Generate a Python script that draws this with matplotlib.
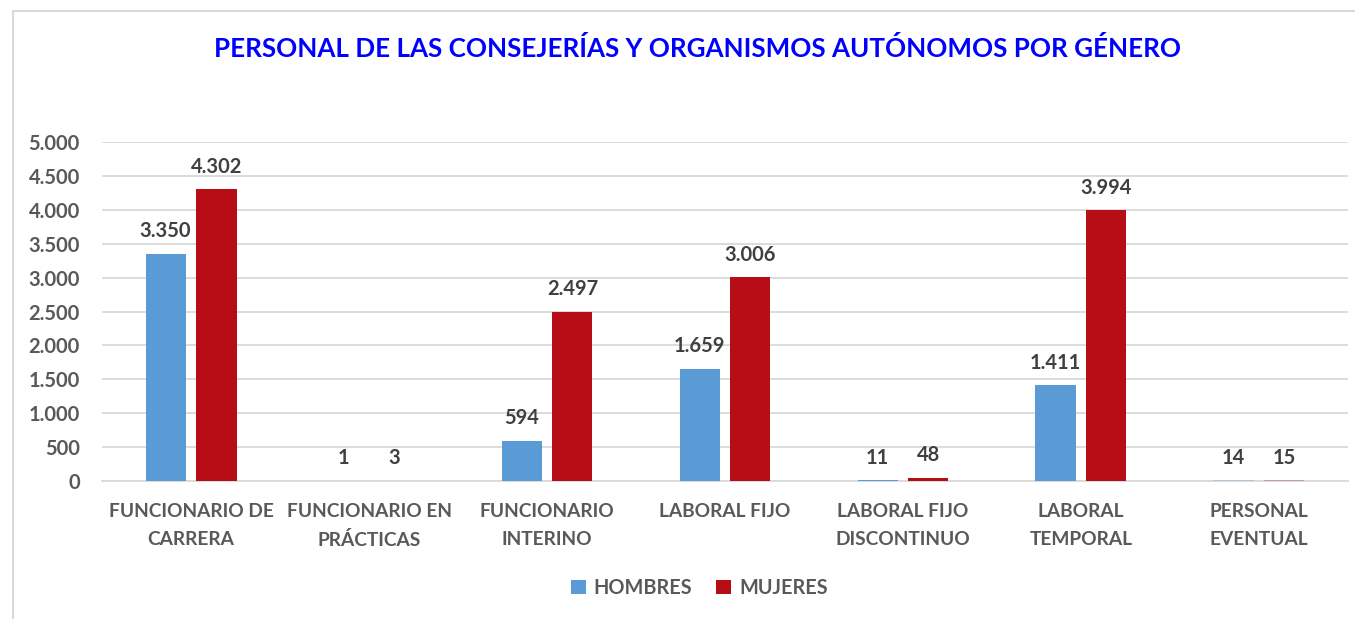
import matplotlib
matplotlib.use("Agg")
import matplotlib.pyplot as plt
import numpy as np
from matplotlib.patches import Rectangle
from matplotlib.ticker import FuncFormatter, MultipleLocator

categorias = [
    "FUNCIONARIO DE\nCARRERA",
    "FUNCIONARIO EN\nPRÁCTICAS",
    "FUNCIONARIO\nINTERINO",
    "LABORAL FIJO",
    "LABORAL FIJO\nDISCONTINUO",
    "LABORAL\nTEMPORAL",
    "PERSONAL\nEVENTUAL",
]
hombres = [3350, 1, 594, 1659, 11, 1411, 14]
mujeres = [4302, 3, 2497, 3006, 48, 3994, 15]

AZUL = "#5B9BD5"
ROJO = "#B70D16"
GRIS = "#595959"

plt.rcParams["font.family"] = ["Lato", "DejaVu Sans"]


def miles(v):
    return f"{int(v):,}".replace(",", ".")


fig = plt.figure(figsize=(13.55, 6.19), dpi=100)
ax = fig.add_axes([0.0753, 0.2229, 0.9195, 0.5477])

x = np.arange(len(categorias))
w = 0.225
off = 0.143
bh = ax.bar(x - off, hombres, w, color=AZUL, label="HOMBRES", zorder=3)
bm = ax.bar(x + off, mujeres, w, color=ROJO, label="MUJERES", zorder=3)
# the last category is drawn faded in the original
bh[-1].set_alpha(0.3)
bm[-1].set_alpha(0.3)

for bars, vals in ((bh, hombres), (bm, mujeres)):
    for b, v in zip(bars, vals):
        ax.annotate(miles(v), (b.get_x() + b.get_width() / 2, v),
                    xytext=(0, 9), textcoords="offset points",
                    ha="center", va="bottom", fontsize=14.5, fontweight="bold",
                    color="#404040")

ax.set_xlim(-0.5, len(categorias) - 0.5)
ax.set_ylim(0, 5000)
ax.yaxis.set_major_locator(MultipleLocator(500))
ax.yaxis.set_major_formatter(FuncFormatter(lambda v, p: miles(v)))
ax.set_xticks(x)
ax.set_xticklabels(categorias, fontsize=13.8, fontweight="bold", color=GRIS,
                   linespacing=1.75)
ax.tick_params(axis="both", length=0, labelcolor=GRIS)
ax.tick_params(axis="x", pad=16)
ax.tick_params(axis="y", pad=16, labelsize=14.5)
for lab in ax.get_yticklabels():
    lab.set_fontweight("bold")
ax.grid(axis="y", color="#D9D9D9", linewidth=1.3, zorder=0)
for s in ("left", "right", "top"):
    ax.spines[s].set_visible(False)
ax.spines["bottom"].set_color("#D9D9D9")
ax.spines["bottom"].set_linewidth(1.3)

fig.text(0.515, 0.921, "PERSONAL DE LAS CONSEJERÍAS Y ORGANISMOS AUTÓNOMOS POR GÉNERO",
         ha="center", va="center", fontsize=18.7, fontweight="bold", color="#0000FF")

fig.legend(handles=[bh, bm], loc="center", bbox_to_anchor=(0.516, 0.05),
           ncol=2, frameon=False, handlelength=0.75,
           handleheight=0.75, handletextpad=0.4, columnspacing=1.2,
           labelcolor=GRIS, prop={"weight": "bold", "size": 14.3})

# outer chart frame (partly cropped in the original)
fig.patches.append(Rectangle((13 / 1355, -0.1), 1.2, 1 - 11 / 619 + 0.1,
                             transform=fig.transFigure, fill=False,
                             edgecolor="#D9D9D9", linewidth=1.5))

fig.savefig("out.png", dpi=100)
